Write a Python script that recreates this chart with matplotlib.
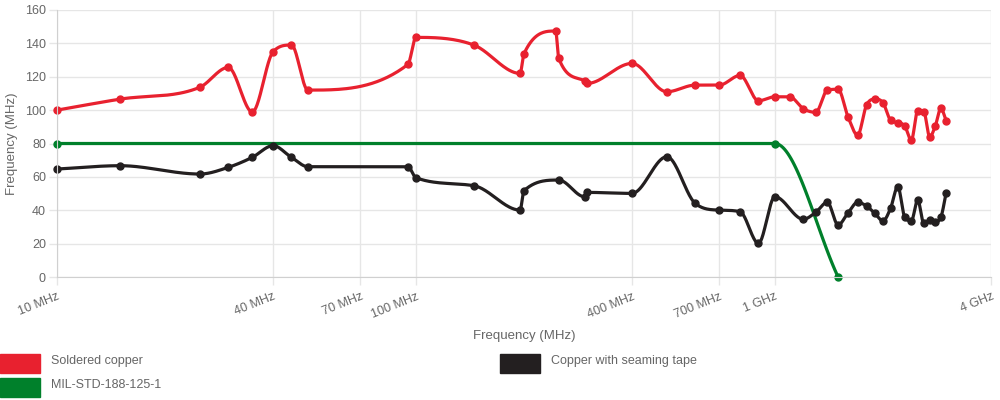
import numpy as np
import matplotlib
matplotlib.use("Agg")
import matplotlib.pyplot as plt
from matplotlib.patches import Rectangle

plt.rcParams['font.family'] = ['Liberation Sans', 'DejaVu Sans']

# Данные (МГц)
red_freq = [10, 15, 25, 30, 35, 40, 45, 50, 95, 100, 145, 195, 200, 245, 250,
            295, 300, 400, 500, 600, 700, 800, 900, 1000,
            1100, 1200, 1300, 1400, 1500, 1600, 1700, 1800, 1900, 2000,
            2100, 2200, 2300, 2400, 2500, 2600, 2700, 2800, 2900, 3000]
red_vals = [100, 106.6, 113.7, 125.6, 98.9, 135, 139, 112, 127.4, 143.6, 139, 122, 133.8, 147.4, 131,
            117.6, 116, 128, 111, 115, 115, 120.8, 105.6, 108,
            108, 100.8, 98.7, 112, 112.5, 95.7, 85, 103, 106.6, 104.5,
            94, 92.5, 90.5, 82, 99.6, 99, 84, 90.7, 101, 93.7]

black_freq = [10, 15, 25, 30, 35, 40, 45, 50, 95, 100, 145, 195, 200, 250,
              295, 300, 400, 500, 600, 700, 800, 900, 1000,
              1200, 1300, 1400, 1500, 1600, 1700, 1800, 1900, 2000,
              2100, 2200, 2300, 2400, 2500, 2600, 2700, 2800, 2900, 3000]
black_vals = [64.7, 66.7, 61.7, 65.7, 71.7, 78.7, 71.7, 66.1, 66.1, 59.5, 54.7, 40.1, 51.7, 58.1,
              48.1, 50.7, 50.1, 72.1, 44.1, 40.1, 39.1, 20.2, 48.1,
              34.6, 38.8, 44.8, 31.2, 38.5, 44.8, 42.5, 38.1, 33.6,
              41.2, 54.1, 35.8, 33.7, 46.1, 32.2, 34.2, 33.1, 35.8, 50.5]

green_freq = [10, 1000, 1500]
green_vals = [80, 80, 0]

series = [
    ('Soldered copper', '#e8212f', red_freq, red_vals),
    ('Copper with seaming tape', '#231f20', black_freq, black_vals),
    ('MIL-STD-188-125-1', '#00802b', green_freq, green_vals),
]

xticks = [10, 40, 70, 100, 400, 700, 1000, 4000]
xtick_labels = ['10 MHz', '40 MHz', '70 MHz', '100 MHz', '400 MHz', '700 MHz', '1 GHz', '4 GHz']
yticks = [0, 20, 40, 60, 80, 100, 120, 140, 160]

TXT = '#666666'
GRID = '#e6e6e6'


# монотонный кубический сплайн (как cubicInterpolationMode: 'monotone')
def monotone(x, y, n=40):
    x = np.log10(np.asarray(x, float))
    y = np.asarray(y, float)
    dx = np.diff(x)
    d = np.diff(y) / dx
    m = np.zeros_like(y)
    m[0], m[-1] = d[0], d[-1]
    for i in range(1, len(y) - 1):
        if d[i - 1] * d[i] <= 0:
            m[i] = 0
        else:
            m[i] = (d[i - 1] + d[i]) / 2
    for i in range(len(d)):
        if abs(d[i]) < 1e-12:
            m[i] = m[i + 1] = 0
            continue
        a, b = m[i] / d[i], m[i + 1] / d[i]
        s = a * a + b * b
        if s > 9:
            t = 3 / np.sqrt(s)
            m[i] = t * a * d[i]
            m[i + 1] = t * b * d[i]
    xs, ys = [], []
    for i in range(len(d)):
        t = np.linspace(0, 1, n)
        h00 = 2 * t**3 - 3 * t**2 + 1
        h10 = t**3 - 2 * t**2 + t
        h01 = -2 * t**3 + 3 * t**2
        h11 = t**3 - t**2
        xs.append(x[i] + t * dx[i])
        ys.append(h00 * y[i] + h10 * dx[i] * m[i] + h01 * y[i + 1] + h11 * dx[i] * m[i + 1])
    return 10 ** np.concatenate(xs), np.concatenate(ys)


fig = plt.figure(figsize=[10, 4], dpi=100)
ax = fig.add_axes([0.057, 0.3075, 0.934, 0.6675])

ax.set_xscale('log')
ax.set_xlim(10, 4000)
ax.set_ylim(0, 160)
ax.set_xticks(xticks)
ax.set_xticklabels(xtick_labels, rotation=22, ha='right', rotation_mode='anchor')
ax.xaxis.set_minor_locator(plt.NullLocator())
ax.set_yticks(yticks)
ax.grid(color=GRID, lw=1)
ax.set_axisbelow(True)
ax.tick_params(length=6, width=1, color=GRID, labelcolor=TXT, labelsize=9, pad=2)
ax.tick_params(axis='x', pad=4)
for s in ['top', 'right']:
    ax.spines[s].set_visible(False)
for s in ['left', 'bottom']:
    ax.spines[s].set_color('#d0d0d0')

ax.set_xlabel('Frequency (MHz)', color=TXT, fontsize=9.5)
ax.set_ylabel('Frequency (MHz)', color=TXT, fontsize=9.5)
ax.xaxis.set_label_coords(0.5, -0.2)
ax.yaxis.set_label_coords(-0.042, 0.5)

# зелёный рисуется первым, красный и чёрный поверх
for name, c, fx, fy in [series[2], series[1], series[0]]:
    sx, sy = monotone(fx, fy)
    ax.plot(sx, sy, color=c, lw=2.3, clip_on=False, solid_capstyle='round')
    ax.plot(fx, fy, 'o', color=c, ms=5, clip_on=False)

# легенда снизу
leg_pos = [(0.0, 0.0675), (0.5, 0.0675), (0.0, 0.0075)]
for (name, c, _, _), (lx, ly) in zip(series, leg_pos):
    fig.add_artist(Rectangle((lx, ly), 0.04, 0.0475, color=c, transform=fig.transFigure))
    fig.text(lx + 0.051, ly + 0.03, name, color=TXT, fontsize=9, va='center')

fig.savefig('out.png', dpi=100)
